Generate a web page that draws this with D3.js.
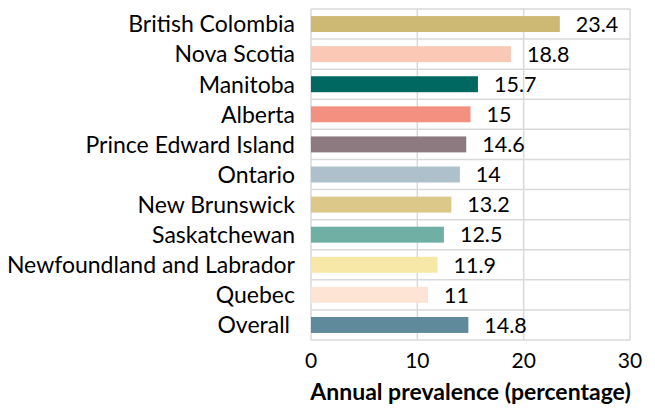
<!DOCTYPE html>
<html>
<head>
<meta charset="utf-8">
<script src="https://cdn.jsdelivr.net/npm/d3@7"></script>
<style>
  body { margin: 0; background: #fff; }
  text { font-family: Lato, "Open Sans", sans-serif; }
</style>
</head>
<body>
<div id="chart"></div>
<script>
const provinces = ['British Colombia', 'Nova Scotia', 'Manitoba', 'Alberta', 'Prince Edward Island',
  'Ontario', 'New Brunswick', 'Saskatchewan', 'Newfoundland and Labrador', 'Quebec', 'Overall'];
const prevalence = [23.4, 18.8, 15.7, 15, 14.6, 14, 13.2, 12.5, 11.9, 11, 14.8];
const barColors = ['#cdb874', '#fac8b4', '#006860', '#f49080', '#8c7a80', '#adc0cc',
  '#dcc888', '#70b0a4', '#f8e8a8', '#fee4d4', '#5f8a9c'];
const xTicks = [0, 10, 20, 30];

const width = 655;
const height = 418;
const margin = { top: 9, right: 25, bottom: 78, left: 311 };

const svg = d3.select('#chart').append('svg')
  .attr('width', width)
  .attr('height', height);

const x = d3.scaleLinear().domain([0, 30]).range([margin.left, width - margin.right]);
const y = d3.scaleBand().domain(provinces).range([margin.top, height - margin.bottom]).paddingInner(0).paddingOuter(0);

const data = provinces.map((p, i) => ({ name: p, value: prevalence[i], color: barColors[i] }));

// grid: category boundaries
const bounds = provinces.map(p => y(p)).concat([y.range()[1]]);
svg.append('g')
  .selectAll('line')
  .data(bounds)
  .enter().append('line')
  .attr('x1', x(0)).attr('x2', x(30))
  .attr('y1', d => d).attr('y2', d => d)
  .attr('stroke', '#d9d9d9')
  .attr('stroke-width', 1.5);

// grid: vertical ticks
svg.append('g')
  .selectAll('line')
  .data(xTicks)
  .enter().append('line')
  .attr('x1', d => x(d)).attr('x2', d => x(d))
  .attr('y1', y.range()[0]).attr('y2', y.range()[1])
  .attr('stroke', '#d9d9d9')
  .attr('stroke-width', 1.5);

const barH = y.bandwidth() * 0.53;

svg.append('g')
  .selectAll('rect')
  .data(data)
  .enter().append('rect')
  .attr('x', x(0))
  .attr('y', d => y(d.name) + (y.bandwidth() - barH) / 2)
  .attr('width', d => x(d.value) - x(0))
  .attr('height', barH)
  .attr('fill', d => d.color);

// value labels
svg.append('g')
  .selectAll('text')
  .data(data)
  .enter().append('text')
  .attr('x', d => x(d.value) + 16)
  .attr('y', d => y(d.name) + y.bandwidth() / 2)
  .attr('dy', '0.36em')
  .attr('font-size', 21.5)
  .attr('fill', '#000')
  .text(d => d.value);

// category labels
svg.append('g')
  .selectAll('text')
  .data(data)
  .enter().append('text')
  .attr('x', d => d.name === 'Overall' ? 290 : 295)
  .attr('y', d => y(d.name) + y.bandwidth() / 2)
  .attr('dy', '0.36em')
  .attr('text-anchor', 'end')
  .attr('font-size', 23)
  .attr('fill', '#000')
  .text(d => d.name);

// x tick labels
svg.append('g')
  .selectAll('text')
  .data(xTicks)
  .enter().append('text')
  .attr('x', d => x(d))
  .attr('y', 360)
  .attr('dy', '0.36em')
  .attr('text-anchor', 'middle')
  .attr('font-size', 21)
  .attr('fill', '#000')
  .text(d => d);

svg.append('text')
  .attr('x', (x(0) + x(30)) / 2)
  .attr('y', 392)
  .attr('dy', '0.36em')
  .attr('text-anchor', 'middle')
  .attr('font-size', 23)
  .attr('font-weight', 'bold')
  .attr('fill', '#000')
  .text('Annual prevalence (percentage)');
</script>
</body>
</html>
